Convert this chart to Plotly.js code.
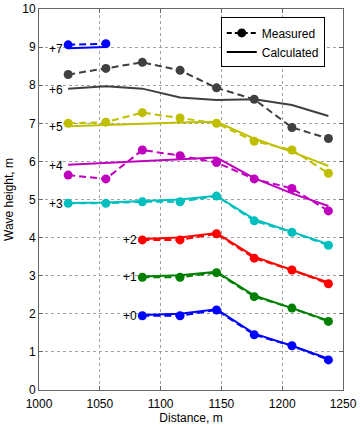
<!DOCTYPE html>
<html>
<head>
<meta charset="utf-8">
<script src="https://cdn.plot.ly/plotly-3.0.1.min.js"></script>
<style>html,body{margin:0;padding:0;background:#fff;}#chart{width:360px;height:427px;}</style>
</head>
<body>
<div id="chart"></div>
<script>
// Distance of measuring points, m
var distance = [1024, 1055, 1085, 1116, 1146, 1177, 1208, 1238];

// Offsets / labels for each series
var offsetLabels = ["+0", "+1", "+2", "+3", "+4", "+5", "+6", "+7"];
var seriesColors = ["#0000ff", "#008000", "#ff0000", "#00bfbf", "#bf00bf", "#bfbf00", "#404040", "#0000ff"];

// Measured wave height (with offset), m
var meas0 = [null, null, 1.95, 1.95, 2.10, 1.45, 1.16, 0.79];
var meas1 = [null, null, 2.96, 2.96, 3.08, 2.45, 2.15, 1.80];
var meas2 = [null, null, 3.94, 3.94, 4.10, 3.46, 3.15, 2.79];
var meas3 = [4.90, 4.90, 4.94, 4.94, 5.09, 4.44, 4.14, 3.80];
var meas4 = [5.64, 5.54, 6.30, 6.15, 5.97, 5.54, 5.29, 4.70];
var meas5 = [7.00, 7.03, 7.28, 7.14, 7.00, 6.53, 6.30, 5.69];
var meas6 = [8.28, 8.44, 8.60, 8.39, 7.93, 7.63, 6.89, 6.60];
var meas7 = [9.06, 9.09, null, null, null, null, null, null];

// Calculated wave height (with offset), m
var calc0 = [null, null, 1.97, 2.00, 2.12, 1.48, 1.16, 0.82];
var calc1 = [null, null, 2.98, 3.01, 3.10, 2.48, 2.15, 1.82];
var calc2 = [null, null, 3.96, 4.00, 4.12, 3.50, 3.15, 2.82];
var calc3 = [4.91, 4.92, 4.96, 5.00, 5.10, 4.48, 4.15, 3.83];
var calc4 = [5.91, 5.96, 6.01, 6.06, 6.10, 5.56, 5.16, 4.83];
var calc5 = [6.92, 6.96, 6.99, 7.02, 7.04, 6.60, 6.25, 5.88];
var calc6 = [7.91, 7.97, 7.91, 7.68, 7.61, 7.63, 7.48, 7.19];
var calc7 = [8.97, 9.00, null, null, null, null, null, null];

var measured = [meas0, meas1, meas2, meas3, meas4, meas5, meas6, meas7];
var calculated = [calc0, calc1, calc2, calc3, calc4, calc5, calc6, calc7];

var traces = [];
var annotations = [];
for (var i = 0; i < measured.length; i++) {
  traces.push({
    x: distance, y: calculated[i], type: 'scatter', mode: 'lines',
    line: {color: seriesColors[i], width: 2}, showlegend: false, hoverinfo: 'skip'
  });
  traces.push({
    x: distance, y: measured[i], type: 'scatter', mode: 'lines+markers',
    line: {color: seriesColors[i], width: 2, dash: '7px,4px'},
    marker: {color: seriesColors[i], size: 9}, showlegend: false, hoverinfo: 'skip'
  });
  // label at first calculated point
  var k = 0;
  while (calculated[i][k] === null) k++;
  annotations.push({
    x: distance[k], y: calculated[i][k], xref: 'x', yref: 'y',
    text: offsetLabels[i], showarrow: false, xanchor: 'right', yanchor: 'middle',
    xshift: -3, yshift: -1, font: {size: 12, color: '#000'}
  });
}
// legend entries
traces.push({x: [null], y: [null], type: 'scatter', mode: 'lines+markers', name: 'Measured',
  line: {color: '#000', width: 2, dash: '5px,3px'}, marker: {color: '#000', size: 9}});
traces.push({x: [null], y: [null], type: 'scatter', mode: 'lines', name: 'Calculated',
  line: {color: '#000', width: 2}});

var axisCommon = {
  showgrid: true, gridcolor: '#a0a0a0', griddash: 'dot', gridwidth: 1,
  showline: true, linecolor: '#666', linewidth: 1, mirror: 'ticks',
  ticks: 'inside', ticklen: 4, tickcolor: '#666',
  zeroline: false, tickfont: {size: 12, color: '#000', family: 'Liberation Sans, Arial, sans-serif'}
};

var layout = {
  width: 360, height: 427,
  margin: {l: 39, r: 17, t: 9, b: 37},
  paper_bgcolor: '#fff', plot_bgcolor: '#fff',
  font: {family: 'Liberation Sans, Arial, sans-serif', size: 12, color: '#000'},
  xaxis: Object.assign({}, axisCommon, {
    range: [1000, 1250], dtick: 50, tick0: 1000, ticklabelstandoff: 3,
    title: {text: 'Distance, m', font: {size: 12}, standoff: 2}
  }),
  yaxis: Object.assign({}, axisCommon, {
    range: [0, 10], dtick: 1, tick0: 0,
    title: {text: 'Wave height, m', font: {size: 12}, standoff: 6}
  }),
  showlegend: true,
  legend: {
    x: 0.94, xanchor: 'right', y: 0.978, yanchor: 'top',
    bgcolor: '#fff', bordercolor: '#000', borderwidth: 1,
    font: {size: 12, color: '#000'}, tracegroupgap: 0,
    itemwidth: 30
  },
  annotations: annotations
};

Plotly.newPlot('chart', traces, layout, {displayModeBar: false, staticPlot: true});
</script>
</body>
</html>
